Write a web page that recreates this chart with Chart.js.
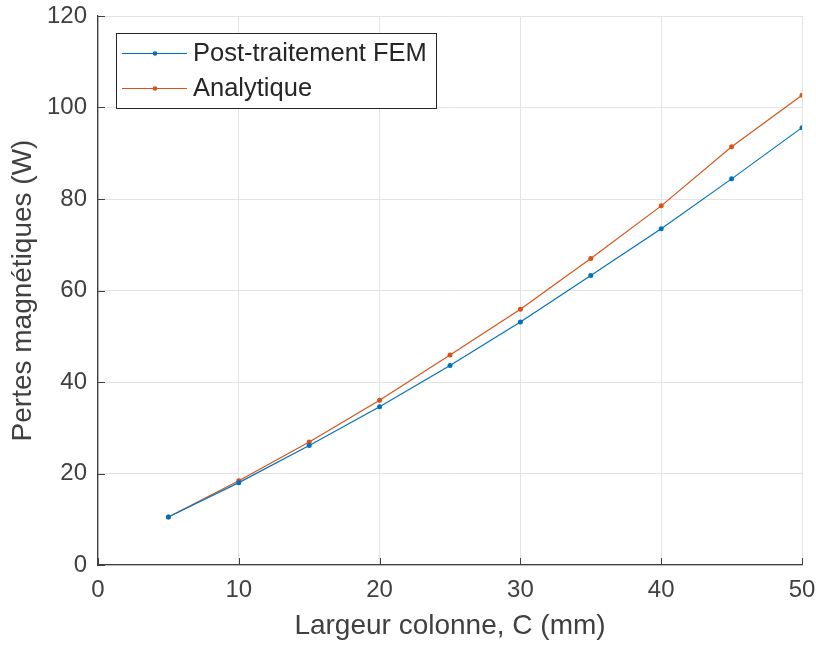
<!DOCTYPE html>
<html>
<head>
<meta charset="utf-8">
<script src="https://cdn.jsdelivr.net/npm/chart.js@4.4.0/dist/chart.umd.min.js"></script>
<style>
  body { margin: 0; background: #ffffff; }
  #wrap { width: 816px; height: 645px; }
</style>
</head>
<body>
<div id="wrap"><canvas id="pertes" width="816" height="645"></canvas></div>
<script>
// largeur de colonne (mm)
var largeurs = [5, 10, 15, 20, 25, 30, 35, 40, 45, 50];
// pertes (W)
var pertesFEM = [10.5, 18.0, 26.1, 34.6, 43.6, 53.1, 63.3, 73.5, 84.4, 95.6];
var pertesAnalytique = [10.5, 18.4, 26.9, 36.0, 45.9, 55.9, 67.0, 78.5, 91.4, 102.7];
var nomsSeries = ["Post-traitement FEM", "Analytique"];
var couleurs = ["#0072BD", "#D95319"];
var xTicks = [0, 10, 20, 30, 40, 50];
var yTicks = [0, 20, 40, 60, 80, 100, 120];

var police = "'Liberation Sans', Arial, Helvetica, sans-serif";
var gris = "#404040";

function points(ys) {
  return largeurs.map(function (x, i) {
    return { x: x, y: ys[i] };
  });
}

// petits traits de graduation vers l'interieur, comme dans MATLAB
var ticksInterieurs = {
  id: "ticksInterieurs",
  afterDatasetsDraw: function (chart) {
    var ctx = chart.ctx;
    var a = chart.chartArea;
    var sx = chart.scales.x, sy = chart.scales.y;
    ctx.save();
    ctx.strokeStyle = gris;
    ctx.lineWidth = 1;
    xTicks.forEach(function (v) {
      var px = Math.round(sx.getPixelForValue(v)) + 0.5;
      ctx.beginPath();
      ctx.moveTo(px, a.bottom);
      ctx.lineTo(px, a.bottom - 7);
      ctx.stroke();
    });
    yTicks.forEach(function (v) {
      var py = Math.round(sy.getPixelForValue(v)) + 0.5;
      ctx.beginPath();
      ctx.moveTo(a.left, py);
      ctx.lineTo(a.left + 7, py);
      ctx.stroke();
    });
    ctx.restore();
  }
};

// legende encadree en haut a gauche
var legendeBoite = {
  id: "legendeBoite",
  afterDraw: function (chart) {
    var ctx = chart.ctx;
    var bx = 116, by = 33, bw = 320, bh = 75;
    ctx.save();
    ctx.fillStyle = "#ffffff";
    ctx.fillRect(bx, by, bw, bh);
    ctx.strokeStyle = "#262626";
    ctx.lineWidth = 1;
    ctx.strokeRect(bx + 0.5, by + 0.5, bw, bh);
    ctx.font = "25.5px " + police;
    ctx.textBaseline = "middle";
    chart.data.datasets.forEach(function (ds, i) {
      var y = by + 20 + i * 35;
      ctx.strokeStyle = ds.borderColor;
      ctx.lineWidth = 1;
      ctx.beginPath();
      ctx.moveTo(122, y + 0.5);
      ctx.lineTo(187, y + 0.5);
      ctx.stroke();
      ctx.fillStyle = ds.borderColor;
      ctx.beginPath();
      ctx.arc(155, y + 0.5, 2.3, 0, Math.PI * 2);
      ctx.fill();
      ctx.fillStyle = "#262626";
      ctx.fillText(ds.label, 193, y + 1);
    });
    ctx.restore();
  }
};

var config = {
  type: "scatter",
  data: {
    datasets: [
      {
        label: nomsSeries[0],
        data: points(pertesFEM),
        borderColor: couleurs[0],
        backgroundColor: couleurs[0],
        showLine: true,
        borderWidth: 1.2,
        pointRadius: 2.5,
        pointBorderWidth: 0
      },
      {
        label: nomsSeries[1],
        data: points(pertesAnalytique),
        borderColor: couleurs[1],
        backgroundColor: couleurs[1],
        showLine: true,
        borderWidth: 1.2,
        pointRadius: 2.5,
        pointBorderWidth: 0
      }
    ]
  },
  options: {
    responsive: false,
    animation: false,
    layout: { padding: { left: 0, top: 16, right: 14, bottom: 0 } },
    plugins: {
      legend: { display: false },
      tooltip: { enabled: false }
    },
    scales: {
      x: {
        type: "linear",
        min: 0,
        max: 50,
        afterBuildTicks: function (axis) {
          axis.ticks = xTicks.map(function (v) { return { value: v }; });
        },
        afterFit: function (axis) {
          axis.height = 80;
          axis.paddingLeft = 0;
          axis.paddingRight = 0;
        },
        grid: { color: "#e3e3e3", lineWidth: 1, drawTicks: false },
        border: { color: gris, width: 1.3 },
        ticks: {
          padding: 11,
          color: gris,
          font: { family: police, size: 24 },
          maxRotation: 0
        },
        title: {
          display: true,
          text: "Largeur colonne, C (mm)",
          color: gris,
          font: { family: police, size: 28 },
          padding: { top: 0, bottom: 2 }
        }
      },
      y: {
        type: "linear",
        min: 0,
        max: 120,
        afterBuildTicks: function (axis) {
          axis.ticks = yTicks.map(function (v) { return { value: v }; });
        },
        afterFit: function (axis) {
          axis.width = 98;
          axis.paddingTop = 0;
          axis.paddingBottom = 0;
        },
        grid: { color: "#e3e3e3", lineWidth: 1, drawTicks: false },
        border: { color: gris, width: 1.3 },
        ticks: {
          padding: 11,
          color: gris,
          font: { family: police, size: 24 }
        },
        title: {
          display: true,
          text: "Pertes magnétiques (W)",
          color: gris,
          font: { family: police, size: 28 },
          padding: { top: 6, bottom: 0 }
        }
      }
    }
  },
  plugins: [ticksInterieurs, legendeBoite]
};

var canvas = document.getElementById("pertes");
canvas.chart = new Chart(canvas.getContext("2d"), config);
</script>
</body>
</html>
